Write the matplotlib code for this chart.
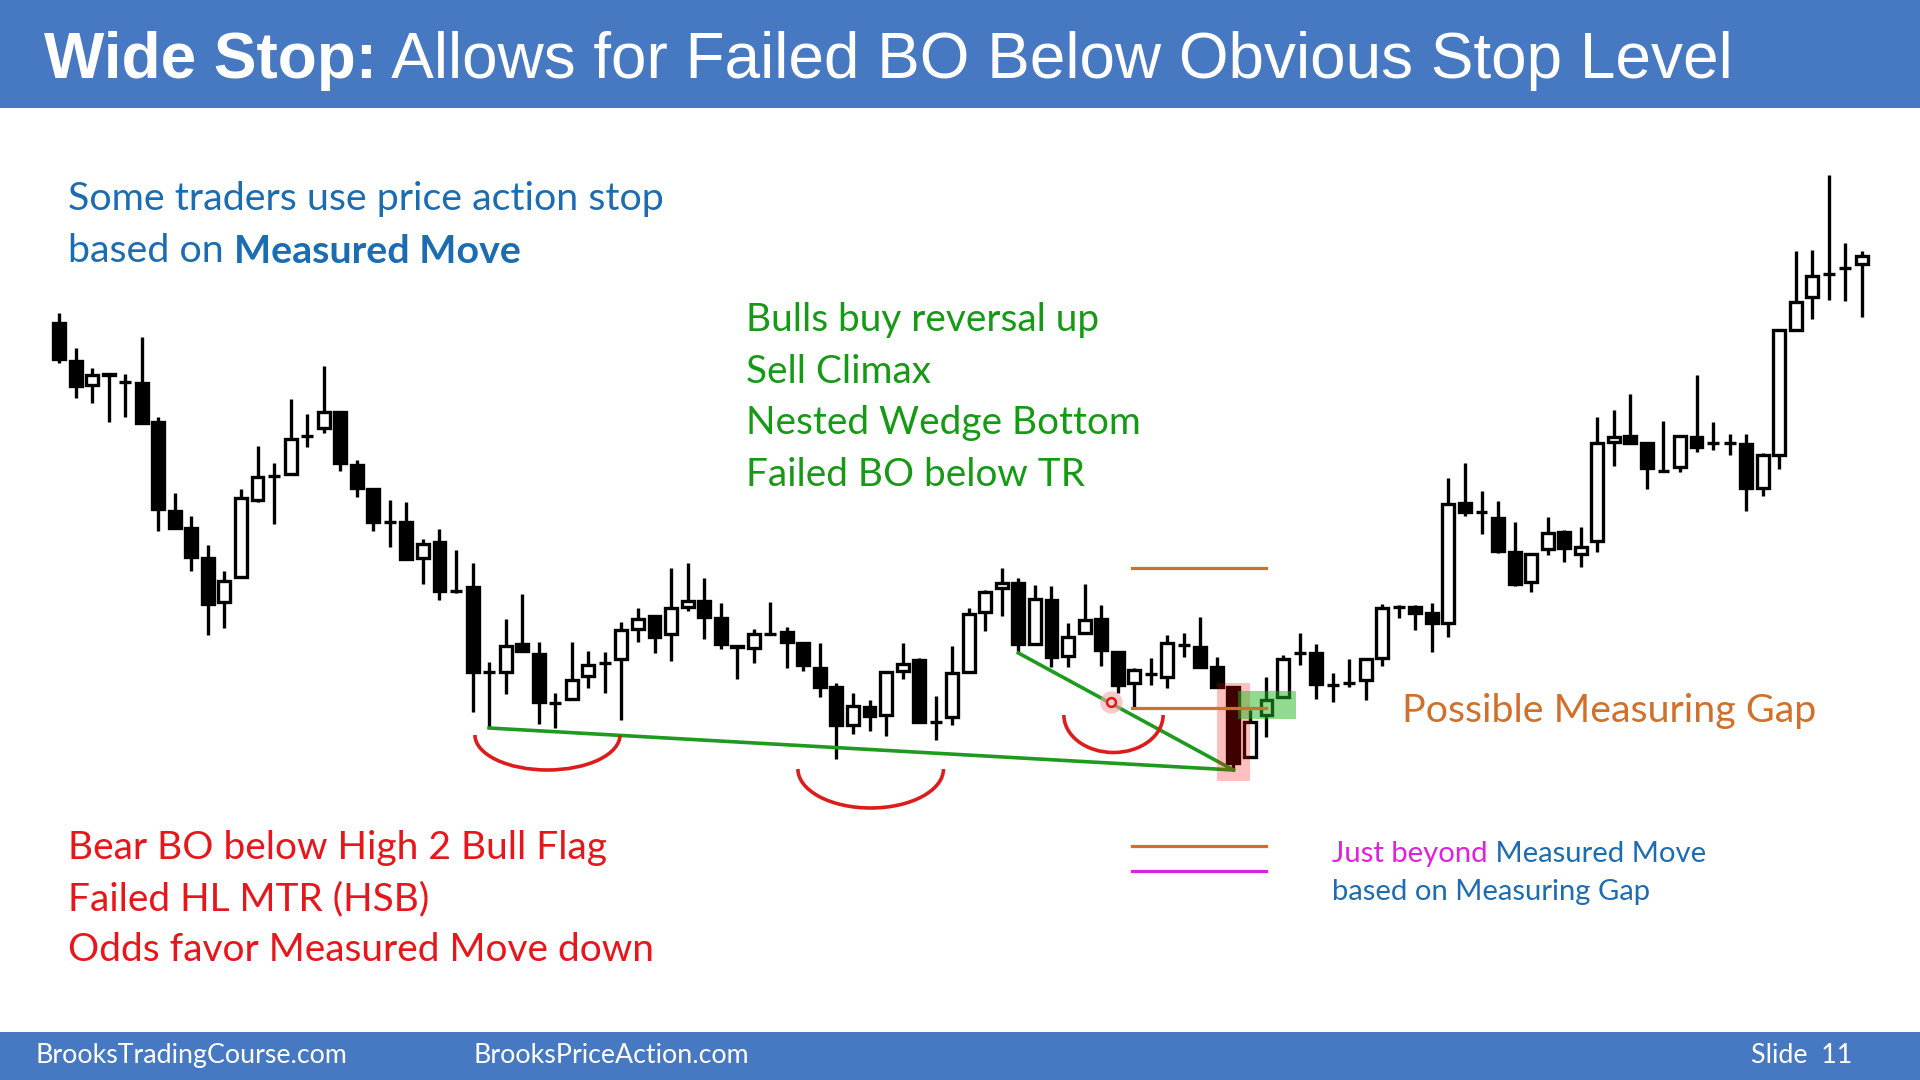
import matplotlib
matplotlib.use("Agg")
import matplotlib.pyplot as plt
from matplotlib.patches import Rectangle, Arc

# OHLC, bar 1 = leftmost bar
opens = [757, 719, 695, 706, 698, 697, 658, 569, 552, 522,
         478, 503, 580, 604, 606, 644, 652, 668, 615, 591,
         558, 558, 522, 538, 489, 493, 408, 408, 436, 426,
         377, 381, 404, 417, 421, 451, 464, 446, 473, 479,
         462, 434, 432, 446, 448, 437, 412, 393, 355, 373,
         365, 409, 420, 358, 363, 408, 468, 492, 497, 436,
         480, 424, 447, 461, 428, 397, 406, 403, 435, 433,
         413, 393, 323, 365, 383, 427, 427, 395, 397, 400,
         422, 473, 473, 467, 457, 577, 568, 562, 528, 498,
         531, 548, 526, 539, 638, 644, 637, 609, 613, 643,
         637, 637, 636, 592, 625, 750, 783, 806, 812, 816]
highs = [767, 732, 712, 706, 706, 743, 663, 587, 564, 535,
         509, 591, 634, 617, 681, 666, 714, 668, 620, 591,
         580, 578, 541, 551, 530, 517, 418, 461, 486, 438,
         387, 438, 429, 428, 458, 472, 464, 512, 517, 502,
         477, 434, 451, 478, 453, 437, 437, 397, 387, 380,
         408, 437, 422, 384, 434, 472, 490, 512, 502, 495,
         494, 457, 496, 475, 428, 412, 422, 445, 447, 463,
         423, 394, 370, 403, 425, 447, 436, 407, 421, 421,
         476, 475, 475, 477, 602, 617, 589, 579, 558, 526,
         563, 550, 553, 663, 670, 686, 637, 659, 644, 705,
         658, 646, 646, 627, 750, 829, 830, 905, 837, 829]
lows = [717, 682, 677, 658, 663, 657, 549, 551, 509, 445,
        452, 503, 578, 556, 606, 633, 647, 609, 583, 549,
        533, 521, 496, 480, 487, 368, 352, 386, 429, 356,
        352, 380, 392, 387, 360, 438, 427, 419, 469, 441,
        431, 401, 417, 445, 412, 409, 383, 321, 346, 349,
        344, 401, 358, 340, 355, 408, 449, 464, 427, 436,
        413, 413, 446, 414, 387, 373, 395, 392, 423, 413,
        393, 310, 323, 343, 383, 415, 381, 378, 393, 380,
        414, 462, 450, 428, 443, 564, 546, 527, 494, 488,
        525, 518, 513, 528, 614, 637, 591, 608, 608, 628,
        630, 625, 569, 584, 611, 749, 761, 780, 779, 763]
closes = [721, 694, 705, 705, 698, 657, 571, 552, 523, 476,
          499, 582, 603, 604, 641, 644, 668, 617, 592, 558,
          558, 521, 536, 489, 489, 408, 408, 434, 429, 378,
          377, 400, 415, 417, 450, 461, 443, 472, 479, 463,
          436, 433, 446, 446, 438, 415, 393, 355, 374, 364,
          408, 416, 358, 358, 407, 466, 488, 497, 436, 481,
          423, 443, 460, 430, 395, 410, 406, 437, 435, 413,
          393, 317, 358, 380, 421, 427, 396, 395, 397, 421,
          472, 473, 467, 457, 576, 568, 568, 529, 496, 526,
          547, 532, 533, 637, 643, 637, 612, 609, 644, 633,
          637, 637, 592, 625, 750, 778, 804, 806, 812, 824]

# measured move levels (gap top, gap bottom, projection) and the wide stop
mm_levels = [512, 372, 234]
stop_level = 209

title_bold = "Wide Stop:"
title_rest = " Allows for Failed BO Below Obvious Stop Level"
blue_lines = ["Some traders use price action stop", "based on ", "Measured Move"]
green_lines = ["Bulls buy reversal up", "Sell Climax", "Nested Wedge Bottom", "Failed BO below TR"]
red_lines = ["Bear BO below High 2 Bull Flag", "Failed HL MTR (HSB)", "Odds favor Measured Move down"]

BLUE = "#1C6CB2"
GREEN = "#169A16"
RED = "#E8161B"
ORANGE = "#D0702A"
MAGENTA = "#E020DC"
BAND = "#4778C2"

W, H = 1920, 1080
def fx(x):
    return x / W
def fy(y):
    return 1 - y / H

fig = plt.figure(figsize=(19.2, 10.8), dpi=100)
fig.patch.set_facecolor("white")
ax = fig.add_axes([0, 0, 1, 1])
ax.set_zorder(1)
ax.set_xlim(-2.57, 113.51)
ax.set_ylim(0, 1080)
ax.axis("off")

# candles
bw = 0.72
for i in range(len(opens)):
    x = i + 1
    o, h, l, c = opens[i], highs[i], lows[i], closes[i]
    ax.plot([x, x], [l, h], color="black", lw=2.4, solid_capstyle="butt", zorder=2)
    fc = "white" if c > o else "black"
    ax.add_patch(Rectangle((x - bw / 2, min(o, c)), bw, abs(c - o),
                           facecolor=fc, edgecolor="black", lw=2.4, zorder=3))

# wedge lines from the lows
ax.plot([27, 72], [lows[26], lows[71]], color="#1E9B1E", lw=2.6, zorder=4)
ax.plot([59, 72], [lows[58], lows[71]], color="#1E9B1E", lw=2.6, zorder=4)

# red arcs under the three pushes down
for cx, cy, w, h in [(30.53, 345, 8.77, 70), (50.07, 311, 8.8, 78), (64.75, 365, 6.0, 75)]:
    ax.add_patch(Arc((cx, cy), w, h, theta1=180, theta2=360, color="#DD1C1C", lw=2.6, zorder=4))

# highlights
ax.add_patch(Rectangle((71.0, 299), 2.0, 98, facecolor="red", alpha=0.25, lw=0, zorder=5))
ax.add_patch(Rectangle((72.28, 361), 3.5, 28, facecolor="#22B822", alpha=0.5, lw=0, zorder=5))
ax.scatter([64.6], [378], s=260, color="#F4A6A6", alpha=0.6, lw=0, zorder=5)
ax.scatter([64.6], [378], s=40, facecolor="#FBD0D0", edgecolor="#E01818", lw=1.8, zorder=6)

# measured move lines
for lv in mm_levels:
    ax.plot([65.85, 73.97], [lv, lv], color=ORANGE, lw=2.3, zorder=6)
ax.plot([65.85, 73.97], [stop_level, stop_level], color=MAGENTA, lw=2.3, zorder=6)

# header and footer bands
fig.patches.append(Rectangle((0, fy(107.7)), 1, 107.7 / H, transform=fig.transFigure,
                             facecolor=BAND, lw=0, zorder=0))
fig.patches.append(Rectangle((0, 0), 1, 48 / H, transform=fig.transFigure,
                             facecolor=BAND, lw=0, zorder=0))

t = fig.text(fx(44), fy(78), title_bold, fontsize=46, fontweight="bold",
             family="Liberation Sans", color="white", va="baseline")
ax.annotate(title_rest, xy=(1, 0), xycoords=t, va="bottom", ha="left",
            fontsize=46, family="Liberation Sans", color="white")

body = "Lato"
fig.text(fx(68), fy(210), blue_lines[0], fontsize=28.4, family=body, color=BLUE, va="baseline")
t = fig.text(fx(68), fy(262), blue_lines[1], fontsize=28.4, family=body, color=BLUE, va="baseline")
ax.annotate(blue_lines[2], xy=(1, 0), xycoords=t, va="bottom", ha="left",
            fontsize=28.4, family=body, fontweight="bold", color=BLUE)

for k, s in enumerate(green_lines):
    fig.text(fx(746), fy(331 + 51.5 * k), s, fontsize=27.9, family=body, color=GREEN, va="baseline")
for k, s in enumerate(red_lines):
    fig.text(fx(68), fy(859 + 51 * k), s, fontsize=28, family=body, color=RED, va="baseline")

fig.text(fx(1402), fy(722), "Possible Measuring Gap", fontsize=28.4, family=body,
         color=ORANGE, va="baseline")
t = fig.text(fx(1332), fy(862), "Just beyond", fontsize=21.1, family=body,
             color=MAGENTA, va="baseline")
ax.annotate(" Measured Move", xy=(1, 0), xycoords=t, va="bottom", ha="left",
            fontsize=21.1, family=body, color=BLUE)
fig.text(fx(1332), fy(900), "based on Measuring Gap", fontsize=21.1, family=body,
         color=BLUE, va="baseline")

fig.text(fx(35), fy(1063), "BrooksTradingCourse.com", fontsize=19.3, family=body, color="white", va="baseline")
fig.text(fx(474), fy(1063), "BrooksPriceAction.com", fontsize=19.3, family=body, color="white", va="baseline")
fig.text(fx(1751), fy(1063), "Slide  11", fontsize=19.3, family=body, color="white", va="baseline")

fig.savefig("out.png", dpi=100)
